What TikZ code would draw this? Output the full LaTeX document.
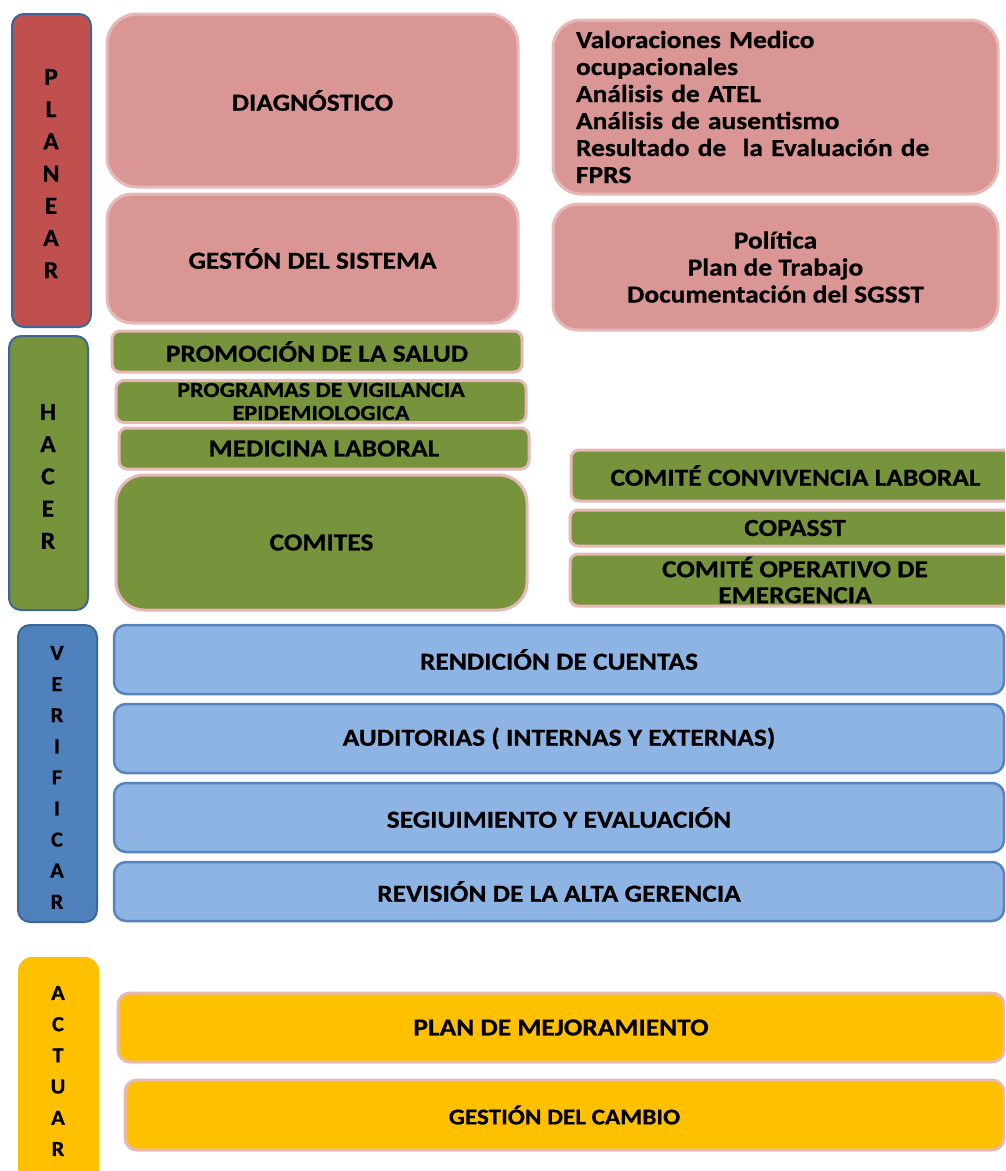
\documentclass[tikz,border=0pt]{standalone}
\usepackage{fontspec}
\setmainfont{Carlito}
\newfontfamily\boxfont{Carlito}[FakeStretch=1.12,FakeBold=0.6]
\newfontfamily\barfont{Carlito}[FakeStretch=1.05,FakeBold=0.6]
\usepackage{tikz}
\usepackage{xcolor}
\definecolor{planred}{HTML}{C0504D}
\definecolor{pinkfill}{HTML}{D99694}
\definecolor{pinkline}{HTML}{E6B9B8}
\definecolor{hacgreen}{HTML}{77933C}
\definecolor{verblue}{HTML}{4F81BD}
\definecolor{barline}{HTML}{3D6697}
\definecolor{lightblue}{HTML}{8EB4E3}
\definecolor{blueline}{HTML}{5584BE}
\definecolor{actyellow}{HTML}{FFC000}

\tikzset{
  bar/.style={draw=barline, line width=2pt, rounded corners=12pt, inner sep=0pt},
  barletter/.style={font=\barfont\bfseries\fontsize{#1}{#1}\selectfont, inner sep=0pt},
  boxtext/.style={font=\boxfont\bfseries\fontsize{24.5}{27}\selectfont, align=center, inner sep=0pt},
  pinkbox/.style={boxtext, fill=pinkfill, draw=pinkline, line width=3pt},
  greenbox/.style={boxtext, fill=hacgreen, draw=pinkline, line width=3pt, rounded corners=8pt},
  bluebox/.style={boxtext, fill=lightblue, draw=blueline, line width=2.5pt, rounded corners=12pt},
  yellowbox/.style={boxtext, fill=actyellow, draw=pinkline, line width=3pt, rounded corners=12pt}
}

\begin{document}
\begin{tikzpicture}[x=1pt,y=-1pt]
\useasboundingbox (0,0) rectangle (1005,1171);
\clip (0,0) rectangle (1005,1171);

% planear
\node[bar, fill=planred, minimum width=79pt, minimum height=313pt] (planear) at (51.5,170.5) {};
\foreach \l [count=\i] in {P,L,A,N,E,A,R}
  \node[barletter=24.5] (pl\i) at (51,{77+32.2*(\i-1)}) {\l};
\node[pinkbox, rounded corners=30pt, minimum width=411pt, minimum height=173pt] (diag) at (312.5,100.5) {DIAGNÓSTICO};
\node[pinkbox, rounded corners=25pt, minimum width=411pt, minimum height=129pt] (gestsis) at (312.5,258.5) {GESTÓN DEL SISTEMA};
\node[pinkbox, rounded corners=28pt, align=left, text width=399pt, inner xsep=23pt, minimum height=174pt] (valor) at (775.5,107)
  {Valoraciones Medico\\ocupacionales\\Análisis de ATEL\\Análisis de ausentismo\\Resultado de~ la Evaluación de\\FPRS};
\node[pinkbox, rounded corners=25pt, minimum width=445pt, minimum height=126pt] (politica) at (775.5,267)
  {Política\\Plan de Trabajo\\Documentación del SGSST};

% hacer
\node[bar, fill=hacgreen, minimum width=79pt, minimum height=274pt] (hacer) at (48.5,473) {};
\foreach \l [count=\i] in {H,A,C,E,R}
  \node[barletter=24.5] (ha\i) at (48,{412+32.2*(\i-1)}) {\l};
\node[greenbox, minimum width=410pt, minimum height=41pt] (promo) at (317,351.5) {PROMOCIÓN DE LA SALUD};
\node[greenbox, minimum width=410pt, minimum height=42pt, font=\boxfont\bfseries\fontsize{21.5}{23}\selectfont] (progr) at (321,401.5)
  {PROGRAMAS DE VIGILANCIA\\EPIDEMIOLOGICA};
\node[greenbox, minimum width=410pt, minimum height=41pt] (medic) at (324,448.5) {MEDICINA LABORAL};
\node[greenbox, rounded corners=28pt, minimum width=411pt, minimum height=135pt] (comites) at (321.5,542.5) {COMITES};
\node[greenbox, minimum width=449pt, minimum height=51pt] (conviv) at (795.5,475.5) {COMITÉ CONVIVENCIA LABORAL};
\node[greenbox, minimum width=450pt, minimum height=36pt] (copasst) at (795,528) {COPASST};
\node[greenbox, minimum width=450pt, minimum height=52pt, font=\boxfont\bfseries\fontsize{24.5}{26}\selectfont] (coe) at (795,580)
  {COMITÉ OPERATIVO DE\\EMERGENCIA};

% verificar
\node[bar, fill=verblue, minimum width=79pt, minimum height=297pt] (verif) at (57.5,773.5) {};
\foreach \l [count=\i] in {V,E,R,I,F,I,C,A,R}
  \node[barletter=21.5] (ve\i) at (57,{653+31.1*(\i-1)}) {\l};
\node[bluebox, minimum width=890pt, minimum height=69pt] (rendic) at (559,659.5) {RENDICIÓN DE CUENTAS};
\node[bluebox, minimum width=890pt, minimum height=69pt] (audit) at (559,738.5) {AUDITORIAS ( INTERNAS Y EXTERNAS)};
\node[bluebox, minimum width=890pt, minimum height=69pt] (seguim) at (559,817.5) {SEGIUIMIENTO Y EVALUACIÓN};
\node[bluebox, minimum width=890pt, minimum height=59pt] (revis) at (559,891.5) {REVISIÓN DE LA ALTA GERENCIA};

% actuar
\node[fill=actyellow, rounded corners=14pt, inner sep=0pt, minimum width=81pt, minimum height=228pt] (actuar) at (58.5,1071) {};
\foreach \l [count=\i] in {A,C,T,U,A,R}
  \node[barletter=21.5] (ac\i) at (58,{993+31.2*(\i-1)}) {\l};
\node[yellowbox, minimum width=886pt, minimum height=69pt] (plan) at (561,1027.5) {PLAN DE MEJORAMIENTO};
\node[yellowbox, minimum width=879pt, minimum height=70pt, font=\boxfont\bfseries\fontsize{22.5}{24}\selectfont] (cambio) at (564.5,1115) {GESTIÓN DEL CAMBIO};

\end{tikzpicture}
\end{document}
